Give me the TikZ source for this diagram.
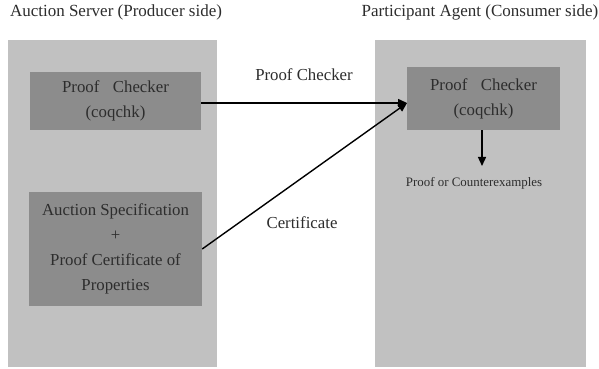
\documentclass[tikz,border=0pt]{standalone}
\usepackage{fontspec}
\setmainfont{Liberation Serif}
\usetikzlibrary{arrows.meta}
\definecolor{bgpanel}{RGB}{193,193,193}
\definecolor{inbox}{RGB}{140,140,140}
\definecolor{txt}{RGB}{45,45,45}
\begin{document}
\begin{tikzpicture}[x=1pt,y=1pt,
  panel/.style={fill=bgpanel,draw=none},
  inner/.style={fill=inbox,draw=none,align=center,text=txt,font=\fontsize{16.8}{25}\selectfont,inner sep=0pt},
  title/.style={text=txt,font=\fontsize{17}{20}\selectfont,inner sep=0pt},
  lbl/.style={text=txt,font=\fontsize{16.8}{20}\selectfont,inner sep=0pt},
  conn/.style={draw=black,line width=1.4pt,-{Triangle[length=9pt,width=8pt]}}]
\useasboundingbox (0,0) rectangle (599,369);
\fill[white] (0,0) rectangle (599,369);
\path[panel] (8,329) rectangle (217,2);
\path[panel] (375,329) rectangle (586,2);
\node[title] (t1) at (116,357) {Auction Server (Producer side)};
\node[title] (t2) at (480,357) {Participant Agent (Consumer side)};
\node[inner,minimum width=171pt,minimum height=58pt] (pc1) at (115.5,268) {Proof\hspace{0.8em}Checker\\(coqchk)};
\node[inner,minimum width=173pt,minimum height=114pt] (spec) at (115.5,120) {Auction Specification\\+\\Proof Certificate of\\Properties};
\node[inner,minimum width=153pt,minimum height=63pt] (pc2) at (483.5,270.5) {Proof\hspace{0.8em}Checker\\(coqchk)};
\node[lbl] (l1) at (304,294) {Proof Checker};
\node[lbl] (l2) at (302,146) {Certificate};
\node[text=txt,font=\fontsize{12.9}{15}\selectfont,inner sep=0pt] (out) at (474,186) {Proof or Counterexamples};
\coordinate (tip) at (407,266);
\coordinate (down) at (482,203);
\draw[conn] (pc1.east |- tip) -- (tip);
\draw[conn] (spec.east) -- (tip);
\draw[conn] (pc2.south -| down) -- (down);
\end{tikzpicture}
\end{document}
